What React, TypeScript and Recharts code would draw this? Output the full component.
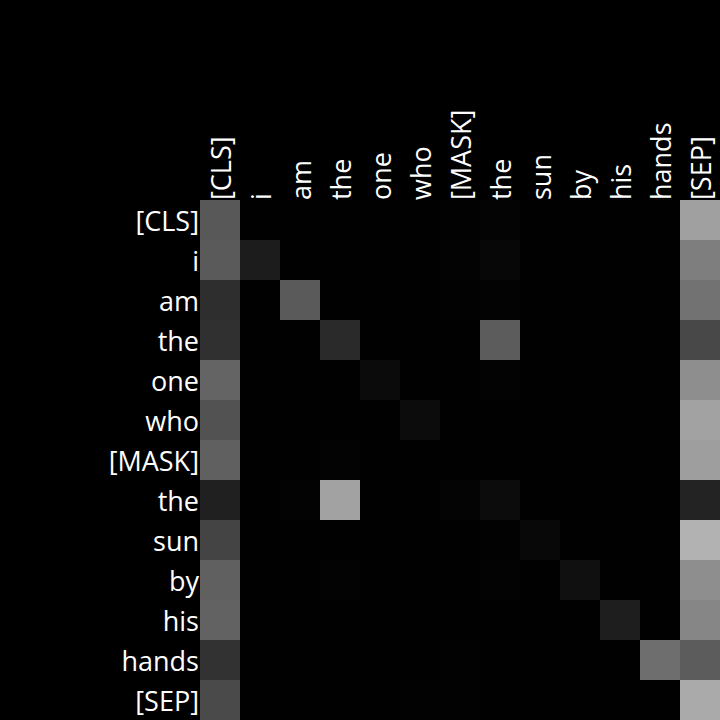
import { BarChart, Bar, XAxis, YAxis, Cell } from "recharts";

const tokens = [
  "[CLS]", "i", "am", "the", "one", "who", "[MASK]",
  "the", "sun", "by", "his", "hands", "[SEP]",
];

// attention weights (row = query token, column = key token)
const attnCls = [0.345, 0.004, 0.004, 0.004, 0.004, 0.004, 0.008, 0.016, 0.004, 0.004, 0.004, 0.004, 0.627];
const attnI = [0.353, 0.11, 0.004, 0.004, 0.004, 0.004, 0.012, 0.027, 0.004, 0.004, 0.004, 0.004, 0.494];
const attnAm = [0.18, 0.004, 0.353, 0.004, 0.004, 0.004, 0.008, 0.012, 0.004, 0.004, 0.004, 0.004, 0.447];
const attnThe = [0.188, 0.004, 0.004, 0.165, 0.004, 0.004, 0.004, 0.361, 0.004, 0.004, 0.004, 0.004, 0.282];
const attnOne = [0.392, 0.004, 0.004, 0.004, 0.043, 0.004, 0.004, 0.012, 0.004, 0.004, 0.004, 0.004, 0.557];
const attnWho = [0.322, 0.004, 0.004, 0.004, 0.004, 0.047, 0.004, 0.004, 0.004, 0.004, 0.004, 0.004, 0.635];
const attnMask = [0.376, 0.004, 0.004, 0.012, 0.004, 0.004, 0.004, 0.004, 0.004, 0.004, 0.004, 0.004, 0.62];
const attnThe2 = [0.125, 0.004, 0.012, 0.635, 0.004, 0.004, 0.016, 0.047, 0.004, 0.004, 0.004, 0.004, 0.137];
const attnSun = [0.267, 0.004, 0.004, 0.004, 0.004, 0.004, 0.004, 0.008, 0.031, 0.004, 0.004, 0.004, 0.698];
const attnBy = [0.376, 0.004, 0.004, 0.012, 0.004, 0.004, 0.004, 0.012, 0.004, 0.063, 0.004, 0.004, 0.557];
const attnHis = [0.384, 0.004, 0.004, 0.004, 0.004, 0.004, 0.004, 0.004, 0.004, 0.004, 0.118, 0.004, 0.525];
const attnHands = [0.196, 0.004, 0.004, 0.004, 0.004, 0.004, 0.008, 0.004, 0.004, 0.004, 0.004, 0.431, 0.361];
const attnSep = [0.29, 0.004, 0.004, 0.004, 0.004, 0.008, 0.008, 0.004, 0.004, 0.004, 0.004, 0.004, 0.667];

const matrix = [
  attnCls, attnI, attnAm, attnThe, attnOne, attnWho, attnMask,
  attnThe2, attnSun, attnBy, attnHis, attnHands, attnSep,
];

const colTicks = tokens.map((_, j) => j + 0.5);

const rows = tokens.map((t, i) => {
  const r: Record<string, any> = { row: `${i}`, label: t };
  tokens.forEach((_, j) => {
    r[`c${j}`] = 1;
  });
  return r;
});

const gray = (v: number) => {
  const g = Math.round(Math.min(1, v) * 255);
  return `rgb(${g},${g},${g})`;
};

const FONT = "'Open Sans', 'Noto Sans', sans-serif";

const TopTick = (props: any) => {
  const { x, y, payload } = props;
  const idx = Math.floor(payload.value);
  return (
    <text
      transform={`translate(${x},${y + 2}) rotate(-90)`}
      textAnchor="start"
      dominantBaseline="central"
      fill="#fff"
      fontSize={27}
      fontFamily={FONT}
    >
      {tokens[idx]}
    </text>
  );
};

const LeftTick = (props: any) => {
  const { x, y, payload } = props;
  return (
    <text
      x={x + 1}
      y={y}
      textAnchor="end"
      dominantBaseline="central"
      fill="#fff"
      fontSize={27}
      fontFamily={FONT}
    >
      {tokens[Number(payload.value)]}
    </text>
  );
};

export default function App() {
  return (
    <div
      style={{
        position: "fixed",
        left: 0,
        top: 0,
        width: 720,
        height: 720,
        background: "#000",
      }}
    >
      <BarChart
        width={720}
        height={720}
        data={rows}
        layout="vertical"
        barCategoryGap={0}
        margin={{ top: 0, right: 0, bottom: 0, left: 0 }}
      >
        <XAxis
          type="number"
          orientation="top"
          domain={[0, 13]}
          ticks={colTicks}
          height={200}
          axisLine={false}
          tickLine={false}
          tickSize={0}
          tick={<TopTick />}
          interval={0}
        />
        <YAxis
          type="category"
          dataKey="row"
          width={200}
          axisLine={false}
          tickLine={false}
          tickSize={0}
          tick={<LeftTick />}
          interval={0}
        />
        {tokens.map((_, j) => (
          <Bar
            key={j}
            dataKey={`c${j}`}
            stackId="a"
            isAnimationActive={false}
          >
            {rows.map((_, i) => (
              <Cell key={i} fill={gray(matrix[i][j])} />
            ))}
          </Bar>
        ))}
      </BarChart>
    </div>
  );
}
